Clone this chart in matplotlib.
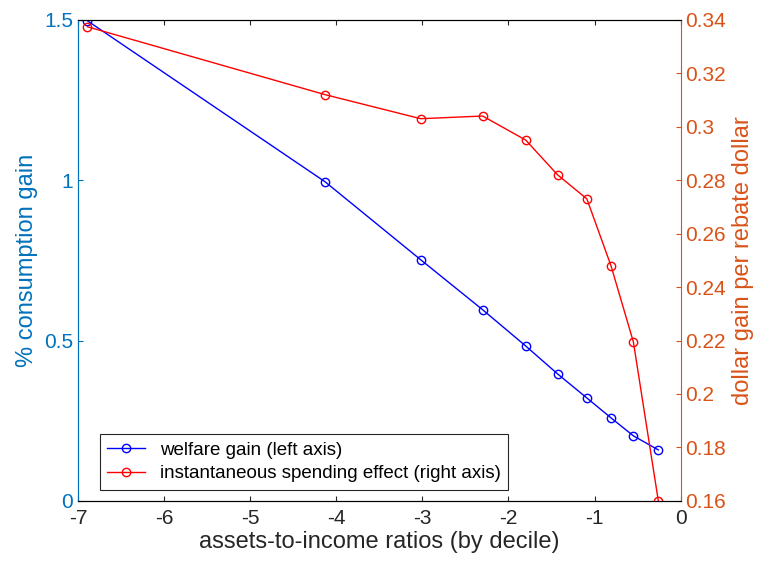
import matplotlib.pyplot as plt

assets_ratio = [-6.89, -4.13, -3.02, -2.30, -1.80, -1.43, -1.09, -0.81, -0.55, -0.26]
welfare_gain = [1.497, 0.995, 0.752, 0.596, 0.483, 0.396, 0.321, 0.259, 0.203, 0.159]
spending_effect = [0.3374, 0.312, 0.303, 0.304, 0.295, 0.282, 0.273, 0.248, 0.2195, 0.16]

LEFT_C = "#0072BD"
RIGHT_C = "#D95319"

plt.rcParams["font.family"] = ["Liberation Sans", "DejaVu Sans"]
plt.rcParams["axes.unicode_minus"] = False
fig = plt.figure(figsize=(7.64, 5.66), dpi=100)
ax = fig.add_axes([0.102, 0.115, 0.789, 0.85])
ax2 = ax.twinx()

l1, = ax.plot(assets_ratio, welfare_gain, "o-", color="blue", mfc="none", lw=1, ms=6,
              label="welfare gain (left axis)")
l2, = ax2.plot(assets_ratio, spending_effect, "o-", color="red", mfc="none", lw=1, ms=6,
               label="instantaneous spending effect (right axis)")

ax.set_xlim(-7, 0)
ax.set_ylim(0, 1.5)
ax.set_yticks([0, 0.5, 1, 1.5])
ax.set_yticklabels(["0", "0.5", "1", "1.5"])
ax2.set_ylim(0.16, 0.34)
ax2.set_yticks([0.16, 0.18, 0.2, 0.22, 0.24, 0.26, 0.28, 0.3, 0.32, 0.34])
ax2.set_yticklabels(["0.16", "0.18", "0.2", "0.22", "0.24", "0.26", "0.28", "0.3", "0.32", "0.34"])

ax.set_xlabel("assets-to-income ratios (by decile)", fontsize=17, color="#262626", labelpad=2)
ax.set_ylabel("% consumption gain", fontsize=17, color=LEFT_C)
ax2.set_ylabel("dollar gain per rebate dollar", fontsize=17, color=RIGHT_C)

ax.tick_params(axis="x", labelsize=15, colors="#262626", direction="in", pad=6)
ax.tick_params(axis="y", labelsize=15, colors=LEFT_C, direction="in")
ax2.tick_params(axis="y", labelsize=15, colors=RIGHT_C, direction="in")
ax.tick_params(top=True, which="both", direction="in")
ax.spines["left"].set_color(LEFT_C)
ax2.spines["left"].set_color(LEFT_C)
ax2.spines["right"].set_color(RIGHT_C)
ax.spines["right"].set_visible(False)

leg = ax.legend(handles=[l1, l2], loc="lower left", bbox_to_anchor=(0.03, 0.015),
                fontsize=13.5, fancybox=False, edgecolor="#262626", framealpha=1,
                borderaxespad=0.2, handlelength=2.0, labelspacing=0.35)
leg.get_frame().set_linewidth(0.8)

fig.savefig("out.png", dpi=100)
